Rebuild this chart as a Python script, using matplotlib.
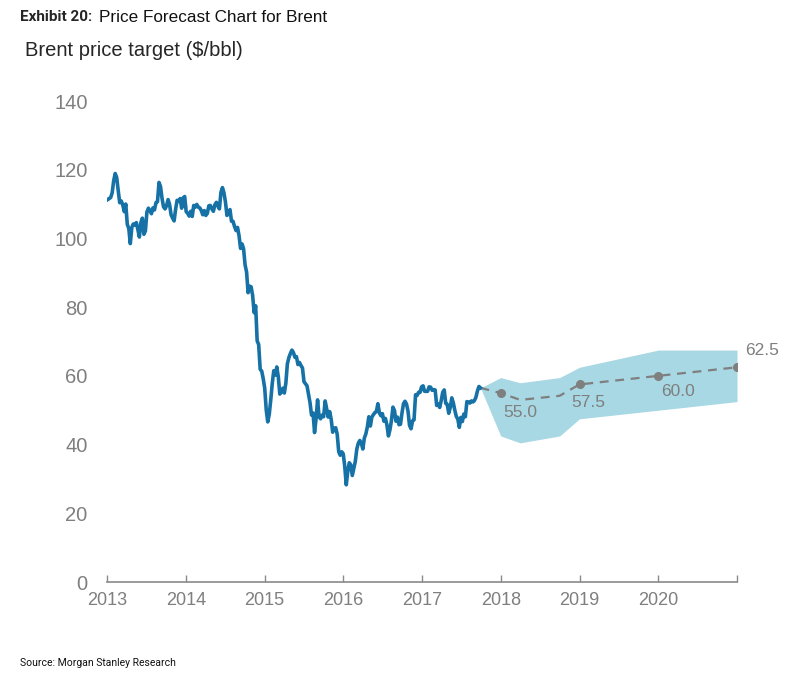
import matplotlib
matplotlib.use("Agg")
import matplotlib.pyplot as plt
import numpy as np
import pandas as pd
from matplotlib import font_manager

# ---------------- data ----------------
brent_2013 = [111.3, 111.6, 111.9, 113.3, 116.8, 118.9, 117.7, 113.9, 110.4, 110.9,
              109.8, 107.8, 110.0, 104.1, 102.9, 98.5, 103.2, 104.2, 103.9, 104.6,
              102.6, 100.4, 104.6, 105.9, 101.2, 102.2, 107.7, 108.8, 108.1, 107.2,
              108.9, 108.3, 110.4, 110.7, 116.3, 115.1, 111.7, 109.2, 108.6, 109.5,
              111.3, 109.9, 106.9, 105.9, 105.1, 108.5, 111.1, 110.8, 111.6, 108.8,
              111.8, 112.2]
brent_2014 = [107.8, 107.3, 106.5, 107.9, 106.4, 109.6, 109.1, 109.9, 109.1, 108.9,
              108.1, 106.9, 108.1, 106.7, 107.3, 109.5, 109.6, 108.6, 107.9, 109.8,
              110.5, 109.4, 108.6, 113.4, 114.8, 113.3, 110.6, 106.7, 107.2, 108.4,
              105.0, 105.0, 103.5, 102.3, 103.2, 100.8, 97.1, 98.4, 97.0, 92.3,
              90.2, 84.2, 86.1, 85.9, 83.4, 78.4, 80.4, 70.2, 69.1, 61.9,
              61.4, 59.2]
brent_2015 = [56.4, 50.1, 46.6, 48.8, 53.0, 57.8, 61.5, 60.2, 62.6, 59.7,
              54.7, 55.3, 56.4, 55.0, 57.9, 63.5, 65.3, 66.5, 67.5, 66.8,
              65.4, 65.6, 63.3, 63.9, 63.0, 62.3, 58.3, 57.7, 57.1, 54.6,
              52.2, 48.6, 49.2, 43.5, 47.5, 53.0, 48.1, 47.5, 48.6, 48.1,
              52.7, 50.5, 48.0, 49.6, 47.4, 43.6, 44.7, 44.9, 43.0, 37.9,
              36.9, 37.9]
brent_2016 = [37.3, 33.6, 28.3, 32.2, 34.7, 34.1, 31.0, 33.0, 35.1, 38.7,
              40.4, 41.2, 40.4, 38.7, 41.9, 43.1, 45.1, 48.1, 45.4, 48.0,
              48.7, 49.3, 49.6, 51.9, 49.2, 48.4, 49.0, 46.8, 47.6, 45.7,
              42.5, 44.3, 47.0, 50.9, 49.9, 46.8, 48.0, 45.8, 45.9, 49.2,
              51.9, 52.6, 51.8, 49.7, 45.6, 44.6, 46.9, 47.2, 54.5, 54.3,
              55.2, 55.2, 56.8]
brent_2017 = [57.1, 55.5, 55.5, 55.5, 56.8, 56.7, 55.8, 56.0, 55.9, 51.4,
              51.8, 50.8, 52.8, 55.2, 55.9, 52.0, 51.7, 49.1, 50.8, 53.6,
              52.2, 50.0, 48.2, 47.4, 45.0, 47.9, 46.7, 48.9, 48.1, 52.5,
              52.4, 52.1, 52.7, 52.4, 52.8, 53.8, 55.6, 56.9, 56.5]

brent_values = brent_2013 + brent_2014 + brent_2015 + brent_2016 + brent_2017
brent_dates = pd.date_range("2013-01-04", periods=len(brent_values), freq="W-FRI")

forecast_dates = ["2018-01-01", "2018-04-01", "2018-10-01", "2019-01-01", "2020-01-01", "2021-01-01"]
forecast_mid = [55.0, 53.0, 54.2, 57.5, 60.0, 62.5]
forecast_high = [59.5, 58.0, 59.5, 62.5, 67.5, 67.5]
forecast_low = [42.5, 40.5, 42.5, 47.5, 50.0, 52.5]

target_years = ["2018-01-01", "2019-01-01", "2020-01-01", "2021-01-01"]
target_values = [55.0, 57.5, 60.0, 62.5]
target_labels = ["55.0", "57.5", "60.0", "62.5"]

year_ticks = [2013, 2014, 2015, 2016, 2017, 2018, 2019, 2020, 2021]
year_labels = ["2013", "2014", "2015", "2016", "2017", "2018", "2019", "2020", ""]
y_ticks = [0, 20, 40, 60, 80, 100, 120, 140]


def frac_year(d):
    d = pd.Timestamp(d)
    start = pd.Timestamp(year=d.year, month=1, day=1)
    end = pd.Timestamp(year=d.year + 1, month=1, day=1)
    return d.year + (d - start) / (end - start)


# ---------------- style ----------------
names = {f.name for f in font_manager.fontManager.ttflist}
base_font = "Liberation Sans" if "Liberation Sans" in names else "DejaVu Sans"
narrow_font = "Liberation Sans Narrow" if "Liberation Sans Narrow" in names else "Roboto"
plt.rcParams["font.family"] = [base_font, "DejaVu Sans"]

GRAY = "#7f7f7f"
BLUE = "#1672a6"
BAND = "#a8d8e3"

fig = plt.figure(figsize=(7.95, 6.9), dpi=100)
ax = fig.add_axes([107 / 795, 1 - 582 / 690, (737 - 107) / 795, (582 - 101) / 690])

bx = [frac_year(d) for d in brent_dates]
fx = [bx[-1]] + [frac_year(d) for d in forecast_dates]
f_hi = [brent_values[-1]] + forecast_high
f_lo = [brent_values[-1]] + forecast_low
f_mid = [brent_values[-1]] + forecast_mid

ax.fill_between(fx, f_lo, f_hi, color=BAND, linewidth=0, zorder=1)
ax.plot(fx, f_mid, color=GRAY, linestyle=(0, (4, 3)), linewidth=1.6, zorder=2)
tx = [frac_year(d) for d in target_years]
ax.plot(tx, target_values, linestyle="none", marker="o", markersize=5.5,
        color=GRAY, zorder=3)
ax.plot(bx, brent_values, color=BLUE, linewidth=2.6, zorder=4,
        solid_joinstyle="round")

offsets = [(14, -14), (6, -13), (14, -11), (18, 12)]
for x, v, lab, off in zip(tx, target_values, target_labels, offsets):
    ax.annotate(lab, (x, v), xytext=off, textcoords="offset points",
                ha="center", va="center", fontsize=12.5, color=GRAY)

ax.set_xlim(2013, 2021)
ax.set_ylim(0, 140)
ax.set_xticks(year_ticks)
ax.set_xticklabels(year_labels)
ax.set_yticks(y_ticks)
ax.set_yticklabels([str(v) for v in y_ticks])

for s in ["left", "right", "top"]:
    ax.spines[s].set_visible(False)
ax.spines["bottom"].set_color("#8a8a8a")
ax.spines["bottom"].set_linewidth(1.2)
ax.tick_params(axis="x", direction="in", length=5, width=1, color="#8a8a8a",
               labelsize=13, labelcolor=GRAY, pad=7)
ax.tick_params(axis="y", length=0, labelsize=14.5, labelcolor=GRAY, pad=14)

fig.text(20 / 795, 1 - 17 / 690, "Exhibit 20:", fontsize=11, fontweight="bold",
         color="#262626", ha="left", va="center", family=[narrow_font, "DejaVu Sans"])
fig.text(99 / 795, 1 - 17 / 690, "Price Forecast Chart for Brent", fontsize=12.3,
         color="#111111", ha="left", va="center")
fig.text(25 / 795, 1 - 50 / 690, "Brent price target ($/bbl)", fontsize=14.5,
         color="#262626", ha="left", va="center")
fig.text(20 / 795, 1 - 663 / 690, "Source: Morgan Stanley Research", fontsize=7.5,
         color="#111111", ha="left", va="center", family=[narrow_font, "DejaVu Sans"])

fig.savefig("out.png", dpi=100)
